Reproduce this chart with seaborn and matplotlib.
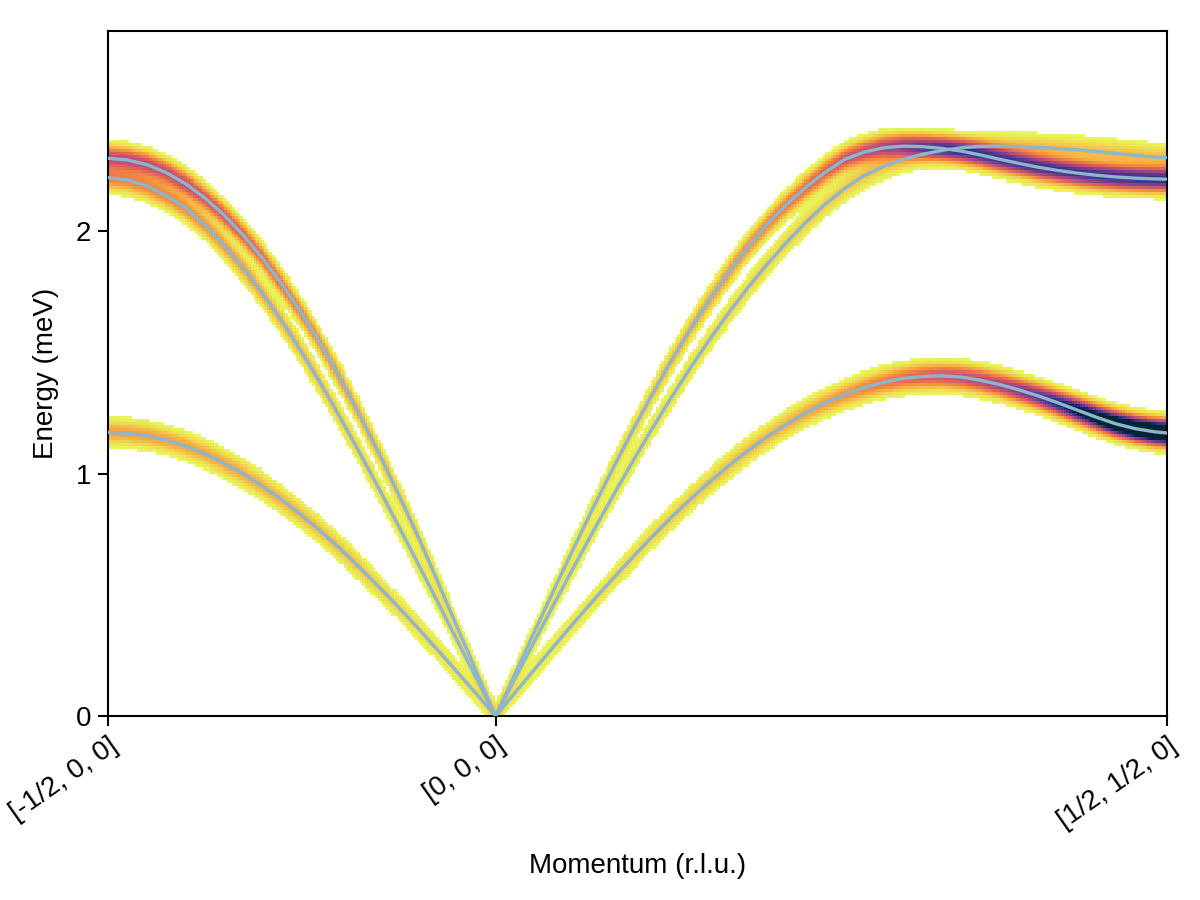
import numpy as np
import pandas as pd
import matplotlib
matplotlib.use("Agg")
import matplotlib.pyplot as plt
from matplotlib.colors import LinearSegmentedColormap, Normalize
import seaborn as sns

# ---------------- data ----------------
# path coordinate along [-1/2,0,0] -> [0,0,0] -> [1/2,1/2,0]
q_path = [0.000, 0.025, 0.050, 0.075, 0.100, 0.125, 0.150, 0.175, 0.200, 0.225,
          0.250, 0.275, 0.300, 0.325, 0.350, 0.375, 0.400, 0.425, 0.450, 0.475,
          0.500, 0.525, 0.550, 0.575, 0.600, 0.625, 0.650, 0.675, 0.700, 0.725,
          0.750, 0.775, 0.800, 0.825, 0.850, 0.875, 0.900, 0.925, 0.950, 0.975,
          1.000, 1.025, 1.050, 1.075, 1.100, 1.125, 1.150, 1.175, 1.200, 1.225,
          1.250, 1.275, 1.300, 1.325, 1.350, 1.366]
q_tick_pos = [0.0, 0.5, 1.366]
q_tick_labels = ["[-1/2, 0, 0]", "[0, 0, 0]", "[1/2, 1/2, 0]"]

# mode energies (meV)
mode1_energy = [1.170, 1.166, 1.156, 1.138, 1.113, 1.081, 1.042, 0.998, 0.947, 0.890,
                0.827, 0.760, 0.688, 0.611, 0.531, 0.448, 0.362, 0.273, 0.183, 0.092,
                0.000, 0.096, 0.192, 0.287, 0.381, 0.473, 0.562, 0.649, 0.733, 0.814,
                0.890, 0.963, 1.030, 1.093, 1.151, 1.203, 1.250, 1.291, 1.325, 1.354,
                1.376, 1.392, 1.400, 1.403, 1.398, 1.385, 1.367, 1.345, 1.320, 1.292,
                1.262, 1.232, 1.205, 1.185, 1.172, 1.167]
mode2_energy = [2.300, 2.293, 2.274, 2.241, 2.195, 2.136, 2.065, 1.981, 1.885, 1.777,
                1.660, 1.530, 1.390, 1.240, 1.080, 0.913, 0.740, 0.557, 0.370, 0.185,
                0.000, 0.174, 0.348, 0.519, 0.688, 0.853, 1.013, 1.167, 1.315, 1.456,
                1.589, 1.713, 1.827, 1.932, 2.027, 2.109, 2.180, 2.242, 2.295, 2.325,
                2.343, 2.350, 2.348, 2.341, 2.330, 2.314, 2.296, 2.279, 2.263, 2.250,
                2.239, 2.230, 2.223, 2.218, 2.215, 2.214]
mode3_energy = [2.220, 2.211, 2.186, 2.146, 2.095, 2.025, 1.940, 1.845, 1.740, 1.625,
                1.500, 1.368, 1.228, 1.083, 0.935, 0.782, 0.628, 0.472, 0.314, 0.157,
                0.000, 0.155, 0.308, 0.460, 0.610, 0.757, 0.900, 1.040, 1.175, 1.305,
                1.430, 1.548, 1.660, 1.765, 1.862, 1.952, 2.035, 2.110, 2.175, 2.228,
                2.266, 2.295, 2.316, 2.332, 2.343, 2.349, 2.350, 2.348, 2.345, 2.340,
                2.335, 2.328, 2.320, 2.312, 2.305, 2.303]

# relative mode intensities (on a coarser momentum grid)
weight_q = [0.00, 0.05, 0.10, 0.15, 0.20, 0.25, 0.30, 0.35, 0.40, 0.45, 0.50,
            0.55, 0.60, 0.65, 0.70, 0.75, 0.80, 0.85, 0.90, 0.95, 1.00,
            1.05, 1.10, 1.15, 1.20, 1.25, 1.30, 1.35, 1.366]
mode1_weight = [12, 12, 11.5, 11, 10, 9, 8, 6.5, 5, 4, 3,
                3, 4, 5, 6, 7, 8, 9, 11, 14, 18,
                23, 28, 34, 45, 65, 85, 100, 100]
mode2_weight = [30, 30, 28, 25, 21, 17, 13, 9, 6.5, 4.5, 3,
                3, 4, 5.5, 7.5, 10, 13, 16, 20, 26, 33,
                40, 45, 48, 50, 50, 50, 50, 50]
mode3_weight = [16, 16, 15, 13, 11, 9, 7, 5.5, 4.5, 3.5, 3,
                3, 3.5, 4, 4.5, 5, 5.5, 6, 6.5, 7, 7.5,
                8, 8, 8, 8, 8, 8, 8, 8]

energy_max = 2.825
broadening = 0.03   # meV (gaussian sigma)
threshold = 1.0
color_max = 60.0

# ---------------- style ----------------
sns.set_style("ticks")
plt.rcParams["font.family"] = ["Liberation Sans", "DejaVu Sans"]
plt.rcParams["text.color"] = "black"
plt.rcParams["axes.labelcolor"] = "black"
plt.rcParams["xtick.color"] = "black"
plt.rcParams["ytick.color"] = "black"

thermal_r = LinearSegmentedColormap.from_list("thermal_r", [
    (0.00, "#e8f75a"), (0.06, "#efdc50"), (0.13, "#f5b845"), (0.22, "#f4903c"),
    (0.32, "#e66a50"), (0.44, "#c6526f"), (0.56, "#9a4585"), (0.68, "#6b3b8e"),
    (0.80, "#3d338f"), (0.90, "#1a2a66"), (1.00, "#042333")])

fig = plt.figure(figsize=(12, 9), dpi=100)
ax = fig.add_axes([0.09, 0.2044, 0.8825, 0.7612])

# ---------------- broadened intensity heatmap ----------------
q = np.array(q_path)
nq, ne = 400, 226
q_edges = np.linspace(q[0], q[-1], nq + 1)
q_cent = 0.5 * (q_edges[:-1] + q_edges[1:])
e_edges = np.linspace(0, energy_max, ne + 1)
e_cent = 0.5 * (e_edges[:-1] + e_edges[1:])

intensity = np.zeros((ne, nq))
for en, wt in [(mode1_energy, mode1_weight), (mode2_energy, mode2_weight),
               (mode3_energy, mode3_weight)]:
    e_q = np.interp(q_cent, q, en)
    w_q = np.exp(np.interp(q_cent, weight_q, np.log(wt)))
    intensity += w_q[None, :] * np.exp(-(e_cent[:, None] - e_q[None, :]) ** 2 / (2 * broadening ** 2))

masked = np.ma.masked_less(intensity, threshold)
ax.pcolormesh(q_edges, e_edges, masked, cmap=thermal_r,
              norm=Normalize(vmin=threshold, vmax=color_max), shading="flat",
              rasterized=True, zorder=1)

# ---------------- dispersion lines ----------------
df = pd.concat([
    pd.DataFrame({"q": q_path, "E": mode1_energy, "mode": "1"}),
    pd.DataFrame({"q": q_path, "E": mode2_energy, "mode": "2"}),
    pd.DataFrame({"q": q_path, "E": mode3_energy, "mode": "3"}),
])
sns.lineplot(data=df, x="q", y="E", units="mode", estimator=None, sort=False,
             color="#8db6cd", linewidth=2.4, ax=ax, zorder=3)

# ---------------- axes ----------------
ax.set_xlim(q[0], q[-1])
ax.set_ylim(0, energy_max)
ax.set_yticks([0, 1, 2])
ax.set_yticklabels(["0", "1", "2"])
ax.set_xticks(q_tick_pos)
ax.set_xticklabels(q_tick_labels, rotation=35, ha="right", va="top",
                   rotation_mode="anchor")
ax.set_xlabel("Momentum (r.l.u.)", fontsize=20, labelpad=14, color="black")
ax.set_ylabel("Energy (meV)", fontsize=20, labelpad=12, color="black")
ax.tick_params(axis="both", labelsize=20, direction="out", length=7, width=1.5,
               color="black", labelcolor="black", pad=5)
for s in ax.spines.values():
    s.set_visible(True)
    s.set_linewidth(1.5)
    s.set_color("black")
ax.set_facecolor("white")

fig.savefig("out.png", dpi=100, facecolor="white")
